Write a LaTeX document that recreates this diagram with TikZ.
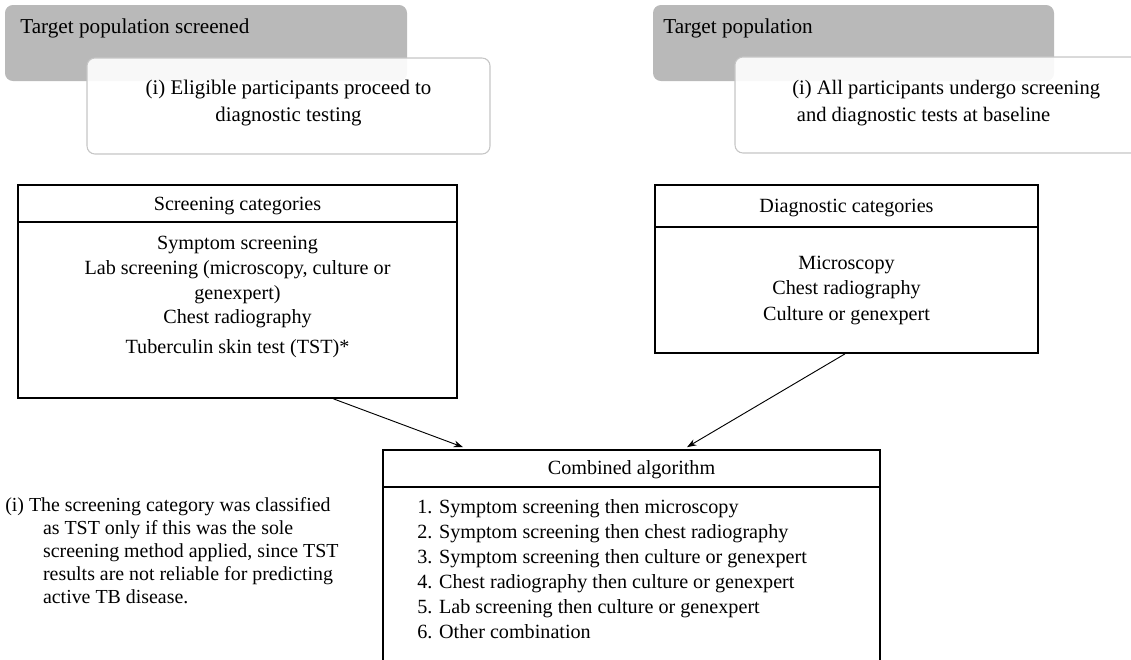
\documentclass[tikz,border=0pt]{standalone}
\usepackage{fontspec}
\setmainfont{Liberation Serif}
\usetikzlibrary{arrows.meta,fit,calc}

\definecolor{panelgray}{HTML}{B9B9B9}
\definecolor{edgegray}{HTML}{C6C6C6}

\begin{document}
\begin{tikzpicture}[x=0.0265cm,y=-0.0265cm,
  font=\fontsize{15.2}{18.8}\selectfont,
  txt/.style={inner sep=0pt},
  panel/.style={fill=panelgray,rounded corners=6pt,inner sep=0pt},
  notebox/.style={draw=edgegray,fill=white,fill opacity=0.9,rounded corners=6pt,inner sep=0pt,line width=0.8pt},
  catbox/.style={draw,line width=1.3pt,inner sep=0pt},
  arr/.style={-{Stealth[length=7pt,width=5pt]},line width=0.7pt}]
  \useasboundingbox (0,0) rectangle (1131,659);

  % Top panels (left: screened population)
  \node[panel,fit={(5,5)(407,81)}] (scrpop) {};
  \node[txt,anchor=base west,font=\fontsize{16}{19}\selectfont] (scrpoptxt) at (20,33) {Target population screened};
  \node[notebox,fit={(87,58)(490,154)}] (scrnote) {};
  \node[txt,align=center,font=\fontsize{15.7}{20.3}\selectfont] (scrnotetxt) at (288.5,103)
    {(i) Eligible participants proceed to\\diagnostic testing};

  % Top panels (right: whole population)
  \node[panel,fit={(653,5)(1054,81)}] (allpop) {};
  \node[txt,anchor=base west,font=\fontsize{16}{19}\selectfont] (allpoptxt) at (663,33) {Target population};
  \node[notebox,fit={(735,57)(1150,153)}] (allnote) {};
  \node[txt,align=left,anchor=west,font=\fontsize{15.5}{20.3}\selectfont] (allnotetxt) at (792,103)
    {(i) All participants undergo screening\\\hspace*{3.5pt}and diagnostic tests at baseline};

  % Screening categories
  \node[catbox,fit={(18,185)(457,398)}] (scr) {};
  \node[catbox,fit={(18,185)(457,222)}] (scrhead) {};
  \node[txt,anchor=base] (scrheadtxt) at ($(scrhead)+(0,7)$) {Screening categories};
  \foreach \y/\t [count=\i] in {243/Symptom screening,
      268/{Lab screening (microscopy, culture or},
      293/genexpert),
      317/Chest radiography,
      347/Tuberculin skin test (TST)*}
    \node[txt,anchor=base] (scritem\i) at (237.5,\y+6) {\t};

  % Diagnostic categories
  \node[catbox,fit={(655,185)(1038,353)}] (diag) {};
  \node[catbox,fit={(655,185)(1038,227)}] (diaghead) {};
  \node[txt,anchor=base] (diagheadtxt) at ($(diaghead)+(0,6)$) {Diagnostic categories};
  \foreach \y/\t [count=\i] in {263/Microscopy,
      288/Chest radiography,
      314/Culture or genexpert}
    \node[txt,anchor=base] (diagitem\i) at (846.5,\y+6) {\t};

  % Combined algorithm
  \node[catbox,fit={(383,450)(880,690)}] (comb) {};
  \node[catbox,fit={(383,450)(880,487)}] (combhead) {};
  \node[txt,anchor=base] (combheadtxt) at ($(combhead)+(0,6)$) {Combined algorithm};
  \foreach \y/\t [count=\i] in {507/1. Symptom screening then microscopy,
      532/2. Symptom screening then chest radiography,
      557/3. Symptom screening then culture or genexpert,
      582/4. Chest radiography then culture or genexpert,
      607/5. Lab screening then culture or genexpert,
      632/6. Other combination}
    \node[txt,anchor=base west] (combitem\i) at (417,\y+6) {\t};

  % Connectors
  \draw[arr] ($(scr.south)+(96,0)$) -- ($(comb.north)+(-168.5,-2)$);
  \draw[arr] ($(diag.south)+(-1.5,0)$) -- ($(comb.north)+(55.5,-2)$);

  % Footnote
  \node[txt,anchor=north west,align=left,font=\fontsize{15}{17.3}\selectfont] (fntxt) at (5,497)
    {(i) The screening category was classified\\\hspace*{28.5pt}as TST only if this was the sole\\\hspace*{28.5pt}screening method applied, since TST\\\hspace*{28.5pt}results are not reliable for predicting\\\hspace*{28.5pt}active TB disease.};
\end{tikzpicture}
\end{document}
